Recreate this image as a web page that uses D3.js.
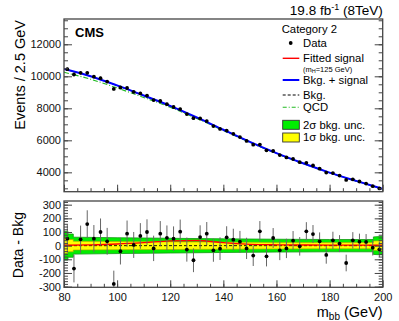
<!DOCTYPE html>
<html>
<head>
<meta charset="utf-8">
<script src="https://cdn.jsdelivr.net/npm/d3@7"></script>
<style>
  body { margin: 0; background: #fff; }
  text { font-family: "Liberation Sans", Arial, sans-serif; }
</style>
</head>
<body>
<div id="plot"></div>
<script>

// Data - Bkg fit plot, category 2

// Set dimensions of the canvas and the two pads
const width = 399;
const height = 321;
const left = 64, right = 382.7;
const top1 = 19, bot1 = 191.7;   // main pad
const top2 = 201, bot2 = 287.3;  // ratio pad
const font = "Liberation Sans, Arial, sans-serif";

// bin centres (2.5 GeV bins from 80 to 200)
const binCenters = d3.range(81.25, 200, 2.5);

// background expectation at each bin centre
const bkgAtBin = [10394, 10281, 10169, 10056, 9928, 9783, 9638, 9493,
  9340, 9180, 9020, 8860, 8698, 8533, 8368, 8203,
  8030, 7850, 7670, 7490, 7305, 7115, 6925, 6735,
  6546, 6359, 6171, 5984, 5803, 5628, 5453, 5278,
  5111, 4954, 4796, 4639, 4488, 4343, 4198, 4053,
  3915, 3785, 3655, 3525, 3398, 3273, 3148, 3023];

// data - bkg per bin
const dataMinusBkg = [51, -168, 46, 158, 51, 100, 32, -280,
  -41, 88, 5, 71, 100, -20, 88, 57,
  51, 102, -29, -107, 63, 88, -34, -22,
  61, 44, 29, -20, -73, 105, -78, 56,
  -34, -20, 37, -5, 105, 85, 32, -68,
  39, 15, -127, 39, 29, 27, -15, -27];

// stat errors on the data points
const statErr = [102, 101, 101, 101, 100, 99, 98, 97,
  97, 96, 95, 94, 93, 93, 92, 91,
  90, 89, 88, 87, 86, 85, 84, 83,
  81, 80, 79, 78, 76, 75, 74, 73,
  72, 71, 70, 68, 67, 66, 65, 64,
  63, 62, 61, 60, 59, 58, 57, 56];

// fitted curves, sampled every 10 GeV
const curveMass = [80, 90, 100, 110, 120, 130, 140, 150, 160, 170, 180, 190, 200];
const bkgCurve  = [10450, 10000, 9420, 8780, 8120, 7400, 6640, 5890, 5190, 4560, 3980, 3460, 2960];
const qcdCurve  = [10250, 9820, 9270, 8680, 8060, 7360, 6610, 5865, 5170, 4545, 3970, 3452, 2955];
const sigCurve  = [3, 6, 12, 22, 35, 38, 22, 9, 6, 5, 4, 4, 3];

// bkg uncertainty bands (half widths) in the ratio pad
const bandMass = [80, 81.5, 81.5, 83.5, 83.5, 100, 120, 140, 160, 180, 196.5, 196.5, 200];
const band2sig = [105, 105, 85, 85, 62, 58, 54, 50, 47, 45, 45, 64, 68];
const band1sig = [56, 56, 45, 45, 32, 30, 28, 26, 24, 23, 23, 34, 36];

// axis ticks
const xTicks = [80, 100, 120, 140, 160, 180, 200];
const yTicksMain = [4000, 6000, 8000, 10000, 12000];
const yTicksRatio = [-300, -200, -100, 0, 100, 200, 300];

const svg = d3.select("#plot")
  .append("svg")
  .attr("width", width)
  .attr("height", height)
  .attr("viewBox", [0, 0, width, height]);

// scales
const x = d3.scaleLinear().domain([80, 200]).range([left, right]);
const y1 = d3.scaleLinear().domain([2790, 13580]).range([bot1, top1]);
const y2 = d3.scaleLinear().domain([-305, 327]).range([bot2, top2]);

svg.append("clipPath").attr("id", "clip1")
  .append("rect").attr("x", left).attr("y", top1).attr("width", right - left).attr("height", bot1 - top1);
svg.append("clipPath").attr("id", "clip2")
  .append("rect").attr("x", left).attr("y", top2).attr("width", right - left).attr("height", bot2 - top2);

/*
  Ratio pad: bands, lines, points
*/
const g2 = svg.append("g").attr("clip-path", "url(#clip2)");

const band = (half) => d3.area()
  .x((d, i) => x(bandMass[i]))
  .y0((d, i) => y2(-half[i]))
  .y1((d, i) => y2(half[i]));

g2.append("path").datum(band2sig)
  .attr("d", band(band2sig))
  .attr("fill", "#00ee00").attr("stroke", "#119911").attr("stroke-width", 0.8);
g2.append("path").datum(band1sig)
  .attr("d", band(band1sig))
  .attr("fill", "#ffff00").attr("stroke", "#b0a000").attr("stroke-width", 0.6);

// bkg line at zero
g2.append("line")
  .attr("x1", x(80)).attr("x2", x(200))
  .attr("y1", y2(0)).attr("y2", y2(0))
  .attr("stroke", "#000").attr("stroke-dasharray", "3,2").attr("stroke-width", 0.9);

// fitted signal
g2.append("path").datum(sigCurve)
  .attr("d", d3.line().x((d, i) => x(curveMass[i])).y(d => y2(d)).curve(d3.curveMonotoneX))
  .attr("fill", "none").attr("stroke", "#ff0000").attr("stroke-width", 1.4);

g2.selectAll(".err2").data(dataMinusBkg).enter()
  .append("line")
  .attr("x1", (d, i) => x(binCenters[i])).attr("x2", (d, i) => x(binCenters[i]))
  .attr("y1", (d, i) => y2(d - statErr[i])).attr("y2", (d, i) => y2(d + statErr[i]))
  .attr("stroke", "#666").attr("stroke-width", 1);

g2.selectAll(".pt2").data(dataMinusBkg).enter()
  .append("circle")
  .attr("cx", (d, i) => x(binCenters[i]))
  .attr("cy", d => y2(d))
  .attr("r", 1.9).attr("fill", "#000");

/*
  Main pad: curves and data
*/
const g1 = svg.append("g").attr("clip-path", "url(#clip1)");

const curve1 = d3.line().x((d, i) => x(curveMass[i])).y(d => y1(d)).curve(d3.curveMonotoneX);

g1.append("path").datum(qcdCurve).attr("d", curve1)
  .attr("fill", "none").attr("stroke", "#22bb22").attr("stroke-width", 1.1)
  .attr("stroke-dasharray", "5,2,1,2");
g1.append("path").datum(bkgCurve).attr("d", curve1)
  .attr("fill", "none").attr("stroke", "#000").attr("stroke-width", 1)
  .attr("stroke-dasharray", "3,2");
g1.append("path").datum(bkgCurve.map((b, i) => b + sigCurve[i])).attr("d", curve1)
  .attr("fill", "none").attr("stroke", "#0000ff").attr("stroke-width", 2);

g1.selectAll(".err1").data(dataMinusBkg).enter()
  .append("line")
  .attr("x1", (d, i) => x(binCenters[i])).attr("x2", (d, i) => x(binCenters[i]))
  .attr("y1", (d, i) => y1(bkgAtBin[i] + d - statErr[i]))
  .attr("y2", (d, i) => y1(bkgAtBin[i] + d + statErr[i]))
  .attr("stroke", "#555").attr("stroke-width", 1);

g1.selectAll(".pt1").data(dataMinusBkg).enter()
  .append("circle")
  .attr("cx", (d, i) => x(binCenters[i]))
  .attr("cy", (d, i) => y1(bkgAtBin[i] + d))
  .attr("r", 1.9).attr("fill", "#000");

/*
  Axes + frames
*/
const axisCol = "#444";
const plain = d => String(d).replace("−", "-");

function styleAxis(g) {
  g.select(".domain").remove();
  g.selectAll("line").attr("stroke", axisCol).attr("stroke-width", 1);
  g.selectAll("text").attr("font-family", font).attr("font-size", "11px").attr("fill", "#111");
}

function minorTicks(lo, hi, step) {
  // tick positions for minor ticks
  return d3.range(Math.ceil(lo / step) * step, hi, step);
}

// main pad y axis (left + mirrored right)
svg.append("g").attr("transform", `translate(${left},0)`)
  .call(d3.axisLeft(y1).tickValues(yTicksMain).tickSize(-8).tickPadding(3).tickFormat(plain)).call(styleAxis);
svg.append("g").attr("transform", `translate(${left},0)`)
  .call(d3.axisLeft(y1).tickValues(minorTicks(2790, 13580, 500)).tickSize(-4).tickFormat("")).call(styleAxis);
svg.append("g").attr("transform", `translate(${right},0)`)
  .call(d3.axisRight(y1).tickValues(yTicksMain).tickSize(-8).tickFormat("")).call(styleAxis);
svg.append("g").attr("transform", `translate(${right},0)`)
  .call(d3.axisRight(y1).tickValues(minorTicks(2790, 13580, 500)).tickSize(-4).tickFormat("")).call(styleAxis);

// main pad x ticks
svg.append("g").attr("transform", `translate(0,${bot1})`)
  .call(d3.axisBottom(x).tickValues(xTicks).tickSize(-7).tickFormat("")).call(styleAxis);
svg.append("g").attr("transform", `translate(0,${bot1})`)
  .call(d3.axisBottom(x).tickValues(minorTicks(80, 200, 5)).tickSize(-3.5).tickFormat("")).call(styleAxis);

// ratio pad y axis
svg.append("g").attr("transform", `translate(${left},0)`)
  .call(d3.axisLeft(y2).tickValues(yTicksRatio).tickSize(-8).tickPadding(3).tickFormat(plain)).call(styleAxis);
svg.append("g").attr("transform", `translate(${left},0)`)
  .call(d3.axisLeft(y2).tickValues(minorTicks(-305, 327, 20)).tickSize(-4).tickFormat("")).call(styleAxis);
svg.append("g").attr("transform", `translate(${right},0)`)
  .call(d3.axisRight(y2).tickValues(yTicksRatio).tickSize(-8).tickFormat("")).call(styleAxis);
svg.append("g").attr("transform", `translate(${right},0)`)
  .call(d3.axisRight(y2).tickValues(minorTicks(-305, 327, 20)).tickSize(-4).tickFormat("")).call(styleAxis);

// ratio pad x axis with labels
svg.append("g").attr("transform", `translate(0,${bot2})`)
  .call(d3.axisBottom(x).tickValues(xTicks).tickSize(-7).tickPadding(6).tickFormat(plain)).call(styleAxis);
svg.append("g").attr("transform", `translate(0,${bot2})`)
  .call(d3.axisBottom(x).tickValues(minorTicks(80, 200, 5)).tickSize(-3.5).tickFormat("")).call(styleAxis);

// frames
[[top1, bot1], [top2, bot2]].forEach(([t, b]) => {
  svg.append("rect")
    .attr("x", left).attr("y", t).attr("width", right - left).attr("height", b - t)
    .attr("fill", "none").attr("stroke", axisCol).attr("stroke-width", 1.3);
});

/*
  Titles and labels
*/
svg.append("text")
  .attr("transform", `translate(25,${top1 + 1}) rotate(-90)`)
  .attr("text-anchor", "end").attr("font-size", "14.5px")
  .text("Events / 2.5 GeV");

svg.append("text")
  .attr("transform", `translate(23,${(top2 + bot2) / 2 + 1}) rotate(-90)`)
  .attr("text-anchor", "middle").attr("font-size", "14px")
  .text("Data - Bkg");

const xt = svg.append("text").attr("x", right).attr("y", 316.5)
  .attr("text-anchor", "end").attr("font-size", "14.5px");
xt.append("tspan").text("m");
xt.append("tspan").attr("font-size", "10px").attr("dy", 3).text("bb");
xt.append("tspan").attr("dy", -3).text(" (GeV)");

svg.append("text").attr("x", 75).attr("y", 36.5)
  .attr("font-size", "13px").attr("font-weight", "bold").text("CMS");

const lumi = svg.append("text").attr("x", right).attr("y", 15)
  .attr("text-anchor", "end").attr("font-size", "13.5px");
lumi.append("tspan").text("19.8 fb");
lumi.append("tspan").attr("font-size", "9px").attr("dy", -5).text("-1");
lumi.append("tspan").attr("dy", 5).text(" (8TeV)");

/*
  Legend
*/
const lgX0 = 282.7, lgX1 = 299.3, lgT = 303;
const leg = svg.append("g").attr("font-size", "11.3px");

leg.append("text").attr("x", 281.7).attr("y", 33.3).text("Category 2");

leg.append("circle").attr("cx", 290.7).attr("cy", 43).attr("r", 1.9).attr("fill", "#000");
leg.append("text").attr("x", lgT).attr("y", 46.5).text("Data");

leg.append("line").attr("x1", lgX0).attr("x2", lgX1).attr("y1", 58.3).attr("y2", 58.3)
  .attr("stroke", "#ff0000").attr("stroke-width", 1.4);
leg.append("text").attr("x", lgT).attr("y", 62).text("Fitted signal");
const mh = leg.append("text").attr("x", lgT).attr("y", 71.5).attr("font-size", "7.5px");
mh.append("tspan").text("(m");
mh.append("tspan").attr("font-size", "5.5px").attr("dy", 1.5).text("H");
mh.append("tspan").attr("dy", -1.5).text("=125 GeV)");

leg.append("line").attr("x1", lgX0).attr("x2", lgX1).attr("y1", 80).attr("y2", 80)
  .attr("stroke", "#0000ff").attr("stroke-width", 2);
leg.append("text").attr("x", lgT).attr("y", 83.7).text("Bkg. + signal");

leg.append("line").attr("x1", lgX0).attr("x2", lgX1).attr("y1", 95).attr("y2", 95)
  .attr("stroke", "#000").attr("stroke-width", 1).attr("stroke-dasharray", "3,2");
leg.append("text").attr("x", lgT).attr("y", 98.7).text("Bkg.");

leg.append("line").attr("x1", lgX0).attr("x2", lgX1).attr("y1", 107.3).attr("y2", 107.3)
  .attr("stroke", "#22bb22").attr("stroke-width", 1.1).attr("stroke-dasharray", "4,2,1,2");
leg.append("text").attr("x", lgT).attr("y", 111).text("QCD");

leg.append("rect").attr("x", lgX0).attr("y", 120.3).attr("width", lgX1 - lgX0).attr("height", 9)
  .attr("fill", "#00ee00").attr("stroke", "#333").attr("stroke-width", 0.9);
leg.append("text").attr("x", lgT).attr("y", 128.5).text("2σ bkg. unc.");

leg.append("rect").attr("x", lgX0).attr("y", 133).attr("width", lgX1 - lgX0).attr("height", 9)
  .attr("fill", "#ffff00").attr("stroke", "#333").attr("stroke-width", 0.9);
leg.append("text").attr("x", lgT).attr("y", 141.3).text("1σ bkg. unc.");

</script>
</body>
</html>
